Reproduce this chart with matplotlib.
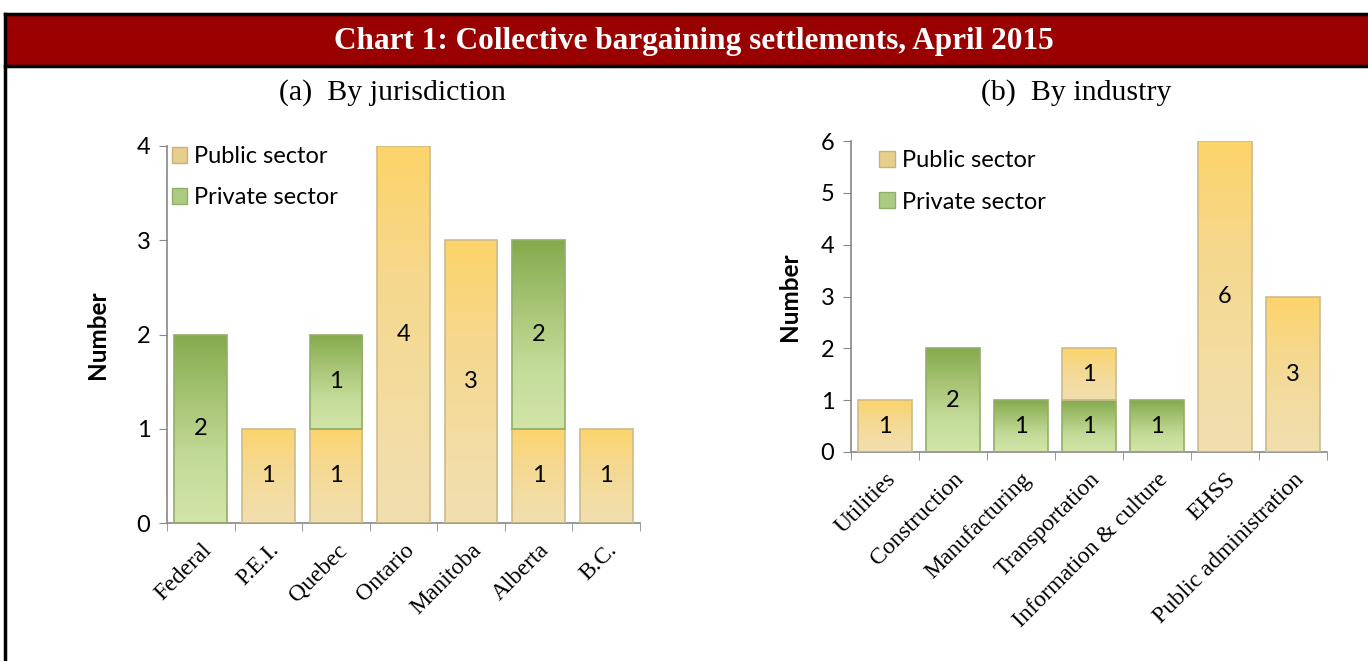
import matplotlib
matplotlib.use("Agg")
import matplotlib.pyplot as plt
import numpy as np
from matplotlib.patches import Rectangle, Patch
from matplotlib.lines import Line2D
from matplotlib.colors import LinearSegmentedColormap

# ---------------- data ----------------
title = "Chart 1: Collective bargaining settlements, April 2015"
sub_a = "(a)  By jurisdiction"
sub_b = "(b)  By industry"

jur_cats = ["Federal", "P.E.I.", "Quebec", "Ontario", "Manitoba", "Alberta", "B.C."]
jur_public = [0, 1, 1, 4, 3, 1, 1]
jur_private = [2, 0, 1, 0, 0, 2, 0]

ind_cats = ["Utilities", "Construction", "Manufacturing", "Transportation",
            "Information & culture", "EHSS", "Public administration"]
ind_public = [1, 0, 0, 1, 0, 6, 3]
ind_private = [0, 2, 1, 1, 1, 0, 0]

ylabel = "Number"
leg_public = "Public sector"
leg_private = "Private sector"

W, H = 1368, 661
fig = plt.figure(figsize=(W / 100, H / 100), dpi=100)

# ---------------- frame & title bar ----------------
def fx(px): return px / W
def fy(py): return 1 - py / H

fig.patches.append(Rectangle((fx(5), fy(66)), fx(1368) - fx(5), fy(14) - fy(66),
                             transform=fig.transFigure, facecolor="#990000",
                             edgecolor="none", zorder=0))
for (xa, ya, xb, yb) in [(5, 14, 1368, 14), (5, 66, 1368, 66), (5, 14, 5, 661)]:
    fig.add_artist(Line2D([fx(xa), fx(xb)], [fy(ya), fy(yb)], transform=fig.transFigure,
                          color="black", lw=2.5))
fig.text(fx(694), fy(41), title, ha="center", va="center", color="white",
         fontsize=22.5, fontweight="bold", family="Liberation Serif")
fig.text(fx(392), fy(93), sub_a, ha="center", va="center", fontsize=21.5,
         family="Liberation Serif")
fig.text(fx(1076), fy(93), sub_b, ha="center", va="center", fontsize=21.5,
         family="Liberation Serif")

pub_cmap = LinearSegmentedColormap.from_list("pub", ["#F1DFB0", "#F3DCA0", "#F6D88C", "#FDD46A"])
pri_cmap = LinearSegmentedColormap.from_list("pri", ["#D2E5A8", "#C3DB98", "#A6C474", "#84AA4C"])
grad = np.linspace(0, 1, 256).reshape(-1, 1)


def gradient_bars(ax, bars, cmap, edge):
    for p in bars:
        if p.get_height() <= 0:
            continue
        x0, y0 = p.get_x(), p.get_y()
        w, h = p.get_width(), p.get_height()
        im = ax.imshow(grad, cmap=cmap, origin="lower", aspect="auto",
                       extent=(x0, x0 + w, y0, y0 + h), zorder=2,
                       interpolation="bicubic")
        im.set_clip_path(p)
        p.set_facecolor("none")
        p.set_edgecolor(edge)
        p.set_linewidth(1.2)
        p.set_zorder(3)


def panel(ax, cats, lower, upper, lower_cmap, upper_cmap, lower_edge, upper_edge,
          ymax, legend_handles, legend_loc, ylabelpad):
    x = np.arange(len(cats))
    b1 = ax.bar(x, lower, width=0.78, bottom=0)
    b2 = ax.bar(x, upper, width=0.78, bottom=lower)
    gradient_bars(ax, b1, lower_cmap, lower_edge)
    gradient_bars(ax, b2, upper_cmap, upper_edge)
    for i in range(len(cats)):
        if lower[i] > 0:
            ax.text(x[i], lower[i] / 2, str(lower[i]), ha="center", va="center",
                    fontsize=17, family="Lato", zorder=5)
        if upper[i] > 0:
            ax.text(x[i], lower[i] + upper[i] / 2, str(upper[i]), ha="center",
                    va="center", fontsize=17, family="Lato", zorder=5)
    ax.set_xlim(-0.5, len(cats) - 0.5)
    ax.set_ylim(0, ymax)
    ax.set_yticks(range(0, ymax + 1))
    ax.set_xticks(x)
    ax.set_xticklabels(cats, rotation=45, ha="right", rotation_mode="anchor",
                       fontsize=17, family="Liberation Serif")
    ax.set_xticks(np.arange(-0.5, len(cats)), minor=True)
    ax.tick_params(axis="x", which="major", length=0, pad=12)
    ax.tick_params(axis="x", which="minor", length=6, color="#888888", direction="out")
    ax.tick_params(axis="y", length=6, color="#888888", labelsize=17, pad=6)
    for lab in ax.get_yticklabels():
        lab.set_family("Lato")
    for s in ["top", "right"]:
        ax.spines[s].set_visible(False)
    for s in ["left", "bottom"]:
        ax.spines[s].set_color("#888888")
        ax.spines[s].set_linewidth(1.2)
    ax.set_ylabel(ylabel, fontsize=17.5, fontweight="bold", family="Lato",
                  labelpad=ylabelpad)
    leg = ax.legend(handles=legend_handles, loc="upper left",
                    bbox_to_anchor=legend_loc, frameon=False,
                    prop={"family": "Lato", "size": 17},
                    handlelength=0.65, handleheight=0.65, handletextpad=0.3,
                    labelspacing=0.85, borderaxespad=0)
    return leg


handles = [Patch(facecolor="#E6CE8C", edgecolor="#C9B27A", label=leg_public),
           Patch(facecolor="#ABCB82", edgecolor="#8FAE66", label=leg_private)]

ax1 = fig.add_axes([fx(167), fy(523), fx(640) - fx(167), fy(146) - fy(523)])
panel(ax1, jur_cats, jur_public, jur_private, pub_cmap, pri_cmap,
      "#CDBB8C", "#93AE6A", 4, handles, (-0.01, 1.025), 20)

ax2 = fig.add_axes([fx(851), fy(452), fx(1327) - fx(851), fy(141) - fy(452)])
panel(ax2, ind_cats, ind_private, ind_public, pri_cmap, pub_cmap,
      "#93AE6A", "#CDBB8C", 6, handles, (0.04, 1.0), 14)

fig.savefig("out.png", dpi=100)
